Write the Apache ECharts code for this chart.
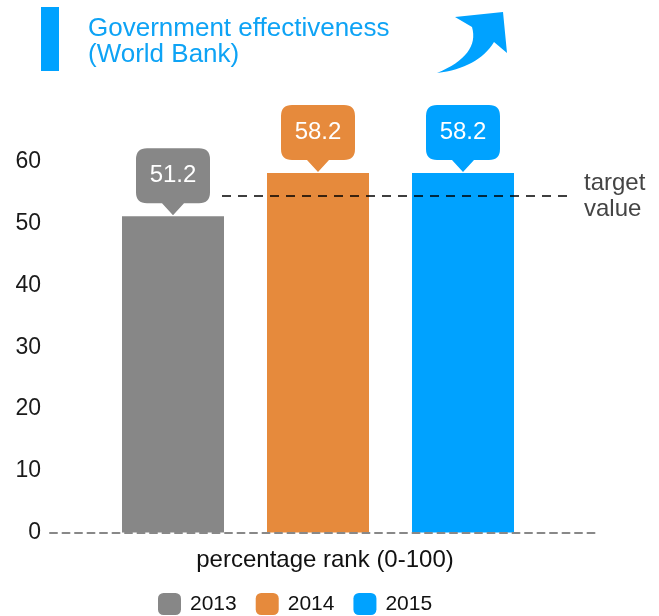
<!DOCTYPE html>
<html>
<head>
<meta charset="utf-8">
<style>
  html, body { margin: 0; padding: 0; background: #fff; }
  #chart { width: 659px; height: 616px; }
</style>
<script src="https://cdn.jsdelivr.net/npm/echarts@6/dist/echarts.min.js"></script>
</head>
<body>
<div id="chart"></div>
<script>
// Percentage rank per year
const years = ['2013', '2014', '2015'];
const values = [51.2, 58.2, 58.2];
const targetValue = 54.5;
const targetLabel = 'target\nvalue';
const titleText = 'Government effectiveness\n(World Bank)';
const axisName = 'percentage rank (0-100)';

const palette = ['#878787', '#E68A3C', '#00A2FF'];
const font = '"Liberation Sans", Arial, Helvetica, sans-serif';

// Callout bubble: rounded box with a pointer at the bottom centre
const calloutPath = 'path://M11,0 L63,0 Q74,0 74,11 L74,44 Q74,55 63,55 L48,55 L37,67 L26,55 L11,55 Q0,55 0,44 L0,11 Q0,0 11,0 Z';

// Sample a quadratic curve into polygon points (for the decorative arrow)
function quad(p0, c, p1, steps) {
  const pts = [];
  for (let k = 0; k <= steps; k++) {
    const t = k / steps, u = 1 - t;
    pts.push([u * u * p0[0] + 2 * u * t * c[0] + t * t * p1[0],
              u * u * p0[1] + 2 * u * t * c[1] + t * t * p1[1]]);
  }
  return pts;
}
const arrowPoints = []
  .concat(quad([437, 73], [478, 68], [494, 42], 16))
  .concat([[507, 53], [503, 12], [455, 17]])
  .concat(quad([472, 27], [480, 55], [437, 73], 16));

const chart = echarts.init(document.getElementById('chart'), null, { renderer: 'canvas' });

const grids = [
  { left: 50, right: 59, top: 162, bottom: 83.5 },
  { left: 100.5, right: 123.5, top: 162, bottom: 83.5 }
];

const series = years.map(function (year, i) {
  const row = years.map(function (_, j) { return j === i ? values[i] : '-'; });
  const s = {
    name: year,
    type: 'bar',
    xAxisIndex: 1,
    yAxisIndex: 1,
    data: row,
    barWidth: 102,
    barGap: '-100%',
    itemStyle: { color: palette[i] },
    markPoint: {
      symbol: calloutPath,
      symbolSize: [74, 67],
      symbolOffset: [0, -34.5],
      silent: true,
      itemStyle: { color: palette[i] },
      label: {
        show: true,
        position: 'inside',
        offset: [0, -6],
        color: '#fff',
        fontSize: 24,
        fontFamily: font,
        formatter: '{c}'
      },
      data: [{ coord: [i, values[i]], value: values[i] }]
    }
  };
  if (i === 0) {
    s.markLine = {
      silent: true,
      symbol: 'none',
      lineStyle: { color: '#000', type: [9, 7], width: 1.5 },
      label: {
        show: true,
        position: 'end',
        distance: 12,
        formatter: targetLabel,
        color: '#444',
        fontSize: 24,
        lineHeight: 26,
        fontFamily: font,
        padding: [8, 0, 0, 0]
      },
      data: [[
        { xAxis: 0, yAxis: targetValue, x: 222 },
        { xAxis: 2, yAxis: targetValue, x: 572 }
      ]]
    };
  }
  return s;
});

chart.setOption({
  animation: false,
  textStyle: { fontFamily: font },
  title: {
    text: titleText,
    left: 83,
    top: 11,
    textStyle: {
      color: '#0EA3F5',
      fontSize: 26,
      fontWeight: 'normal',
      lineHeight: 26,
      fontFamily: font
    }
  },
  legend: {
    data: years,
    left: 153,
    top: 588,
    icon: 'roundRect',
    itemWidth: 23,
    itemHeight: 22,
    itemGap: 19,
    selectedMode: false,
    textStyle: { fontSize: 21, color: '#111', fontFamily: font, padding: [0, 0, 0, 4] }
  },
  grid: grids,
  xAxis: [
    {
      gridIndex: 0,
      type: 'category',
      data: [''],
      z: 5,
      axisLine: { show: true, lineStyle: { color: '#888', type: [7, 5.5], width: 2 } },
      axisTick: { show: false },
      axisLabel: { show: false },
      name: axisName,
      nameLocation: 'middle',
      nameGap: 16,
      nameTextStyle: { fontSize: 24, color: '#111', fontFamily: font }
    },
    {
      gridIndex: 1,
      type: 'category',
      data: years,
      axisLine: { show: false },
      axisTick: { show: false },
      axisLabel: { show: false }
    }
  ],
  yAxis: [
    {
      gridIndex: 0,
      type: 'value',
      min: 0,
      max: 60,
      interval: 10,
      axisLine: { show: false },
      axisTick: { show: false },
      splitLine: { show: false },
      axisLabel: { fontSize: 23, color: '#1a1a1a', margin: 9, fontFamily: font }
    },
    {
      gridIndex: 1,
      type: 'value',
      min: 0,
      max: 60,
      interval: 10,
      show: false,
      splitLine: { show: false }
    }
  ],
  graphic: [
    {
      type: 'rect',
      silent: true,
      shape: { x: 41, y: 7, width: 18, height: 64 },
      style: { fill: '#00A2FF' }
    },
    {
      type: 'polygon',
      silent: true,
      shape: { points: arrowPoints },
      style: { fill: '#00A2FF' }
    }
  ],
  series: series
});
</script>
</body>
</html>
